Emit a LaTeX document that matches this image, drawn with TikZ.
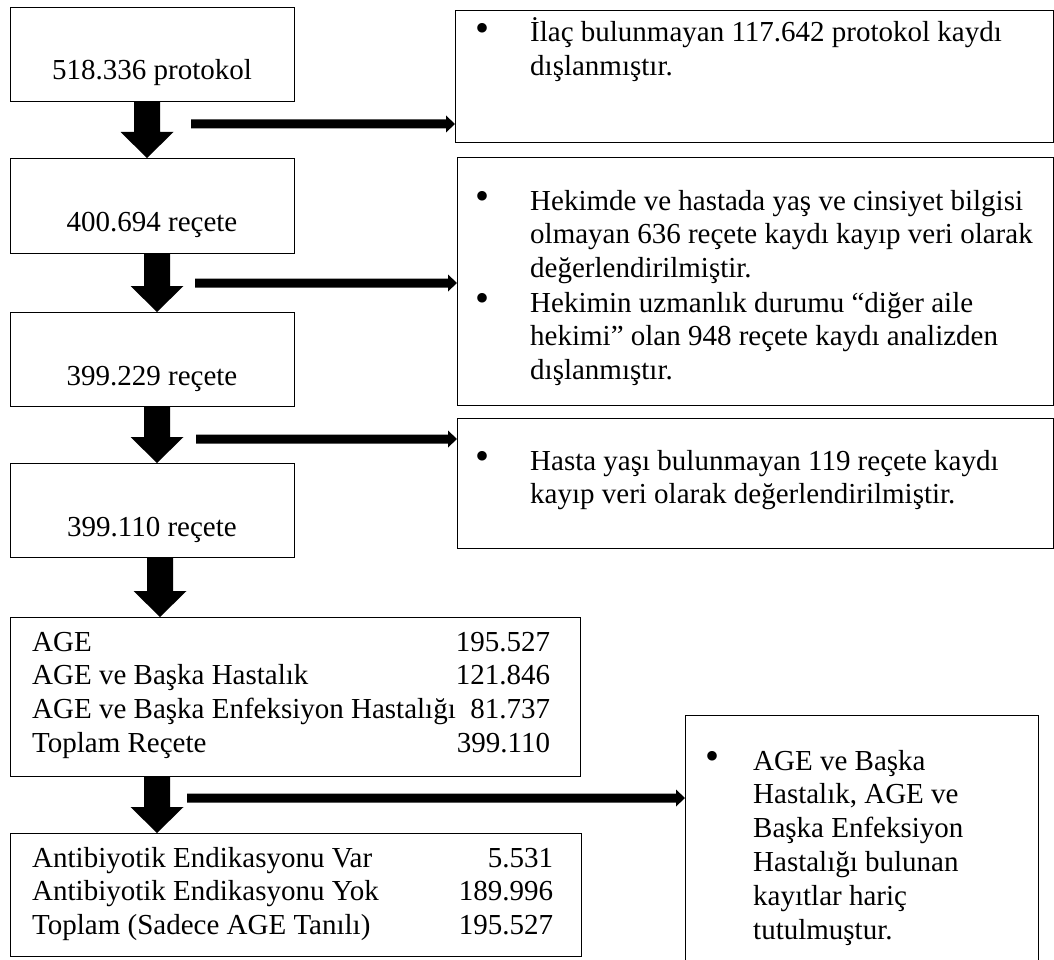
\documentclass[tikz,border=0pt]{standalone}
\usepackage{fontspec}
\setmainfont{Liberation Serif}
\usetikzlibrary{calc}
\newcommand\blockdown[3]{% #1 source node, #2 target node, #3 tip x
  \fill let \p1=(#1.south), \p2=(#2.north) in
   (#3pt-13pt,\y1) -- (#3pt+13pt,\y1) -- (#3pt+13pt,\y2+26pt) -- (#3pt+26.5pt,\y2+26pt)
   -- (#3pt,\y2) -- (#3pt-26.5pt,\y2+26pt) -- (#3pt-13pt,\y2+26pt) -- cycle;}
\newcommand\sidearrow[2]{% #1 start coordinate, #2 target node
  \fill let \p1=(#1), \p2=(#1 -| #2.west) in
   (\x1,\y1+4.5pt) -- (\x2-9pt,\y1+4.5pt) -- (\x2-9pt,\y1+8.5pt) -- (\x2,\y1)
   -- (\x2-9pt,\y1-8.5pt) -- (\x2-9pt,\y1-4.5pt) -- (\x1,\y1-4.5pt) -- cycle;}
\begin{document}
\begin{tikzpicture}[x=1pt,y=-1pt,
  box/.style={draw=black, line width=1.2pt, inner sep=0pt, anchor=north west},
  txt/.style={inner sep=0pt, anchor=base, font=\fontsize{29}{33.8}\selectfont},
  ltxt/.style={inner sep=0pt, anchor=base west, font=\fontsize{29}{33.8}\selectfont},
  bul/.style={inner sep=0pt, anchor=center, font=\fontsize{40}{40}\selectfont}
]
\clip (0,0) rectangle (1054,960);
% left column boxes
\node[box, minimum width=284pt, minimum height=94pt] (b1) at (10,7) {};
\node[box, minimum width=284pt, minimum height=95pt] (b2) at (10,158) {};
\node[box, minimum width=284pt, minimum height=94pt] (b3) at (10,312) {};
\node[box, minimum width=284pt, minimum height=94pt] (b4) at (10,463) {};
\node[box, minimum width=570pt, minimum height=159pt] (b5) at (10,617) {};
\node[box, minimum width=571pt, minimum height=123pt] (b6) at (10,833) {};
\node[txt] (t1) at (152,80) {518.336 protokol};
\node[txt] (t2) at (152,231) {400.694 reçete};
\node[txt] (t3) at (152,385) {399.229 reçete};
\node[txt] (t4) at (152,536) {399.110 reçete};
\node[ltxt] (t5) at (32,651) {\begin{tabular*}{514pt}[t]{@{}l@{\extracolsep{\fill}}r@{}}
AGE & 195.527\\
AGE ve Başka Hastalık & 121.846\\
AGE ve Başka Enfeksiyon Hastalığı & 81.737\\
Toplam Reçete & 399.110
\end{tabular*}};
\node[ltxt] (t6) at (32,867) {\begin{tabular*}{521pt}[t]{@{}l@{\extracolsep{\fill}}r@{}}
Antibiyotik Endikasyonu Var & 5.531\\
Antibiyotik Endikasyonu Yok & 189.996\\
Toplam (Sadece AGE Tanılı) & 195.527
\end{tabular*}};
% right column boxes
\node[box, minimum width=597.5pt, minimum height=132pt] (r1) at (455,10) {};
\node[box, minimum width=595.5pt, minimum height=248pt] (r2) at (457,157) {};
\node[box, minimum width=595.5pt, minimum height=130pt] (r3) at (457,418) {};
\node[box, minimum width=353pt, minimum height=270pt] (r4) at (685,715) {};
\node[bul] (u1) at (482,32) {•};
\node[ltxt] (q1) at (530,42) {\begin{tabular}[t]{@{}l@{}}İlaç bulunmayan 117.642 protokol kaydı\\ dışlanmıştır.\end{tabular}};
\node[bul] (u2) at (482,200) {•};
\node[ltxt] (q2) at (530,210) {\begin{tabular}[t]{@{}l@{}}Hekimde ve hastada yaş ve cinsiyet bilgisi\\ olmayan 636 reçete kaydı kayıp veri olarak\\ değerlendirilmiştir.\end{tabular}};
\node[bul] (u3) at (482,302) {•};
\node[ltxt] (q3) at (530,312) {\begin{tabular}[t]{@{}l@{}}Hekimin uzmanlık durumu “diğer aile\\ hekimi” olan 948 reçete kaydı analizden\\ dışlanmıştır.\end{tabular}};
\node[bul] (u4) at (482,460) {•};
\node[ltxt] (q4) at (530,470) {\begin{tabular}[t]{@{}l@{}}Hasta yaşı bulunmayan 119 reçete kaydı\\ kayıp veri olarak değerlendirilmiştir.\end{tabular}};
\node[bul] (u5) at (712,760) {•};
\node[ltxt] (q5) at (753,770) {\begin{tabular}[t]{@{}l@{}}AGE ve Başka\\ Hastalık, AGE ve\\ Başka Enfeksiyon\\ Hastalığı bulunan\\ kayıtlar hariç\\ tutulmuştur.\end{tabular}};
% down block arrows
\blockdown{b1}{b2}{147}
\blockdown{b2}{b3}{157}
\blockdown{b3}{b4}{157}
\blockdown{b4}{b5}{160}
\blockdown{b5}{b6}{157}
% side arrows
\coordinate (s1) at (191,124);
\coordinate (s2) at (195,283);
\coordinate (s3) at (196,439);
\coordinate (s5) at (187,798);
\sidearrow{s1}{r1}
\sidearrow{s2}{r2}
\sidearrow{s3}{r3}
\sidearrow{s5}{r4}
\end{tikzpicture}
\end{document}
